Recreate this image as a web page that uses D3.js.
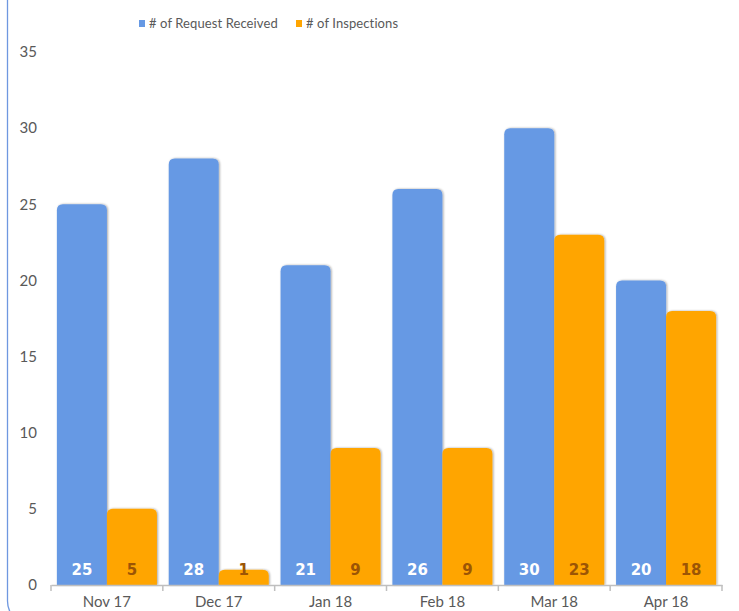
<!DOCTYPE html>
<html>
<head>
<meta charset="utf-8">
<script src="https://cdn.jsdelivr.net/npm/d3@7"></script>
<style>
  body { margin: 0; background: #fff; }
  svg { display: block; }
</style>
</head>
<body>
<div id="chart"></div>
<script>
// Data
const MONTHS = ['Nov 17', 'Dec 17', 'Jan 18', 'Feb 18', 'Mar 18', 'Apr 18']
const SERIES = ['# of Request Received', '# of Inspections']
const REQUESTS = [25, 28, 21, 26, 30, 20]
const INSPECTIONS = [5, 1, 9, 9, 23, 18]
const Y_TICKS = [0, 5, 10, 15, 20, 25, 30, 35]

// Chart Dimensions
const WIDTH = 739
const HEIGHT = 611
const COLORS = ['#6699e4', '#ffa500']
const LABEL_COLORS = ['#ffffff', '#9c5505']
const FONT = 'Lato, "Open Sans", sans-serif'

var svg = d3.select('#chart').append('svg')
    .attr('width', WIDTH)
    .attr('height', HEIGHT)

// soft shadow on the bars
var defs = svg.append('defs')
defs.append('filter').attr('id', 'shadow')
    .attr('x', '-10%').attr('y', '-10%').attr('width', '130%').attr('height', '130%')
    .append('feDropShadow')
    .attr('dx', 1).attr('dy', 0).attr('stdDeviation', 0.8)
    .attr('flood-color', '#000').attr('flood-opacity', 0.35)

// outer frame (mostly off-screen)
svg.append('rect')
    .attr('x', 7.5).attr('y', -30)
    .attr('width', 758).attr('height', 655)
    .attr('rx', 24)
    .attr('fill', 'none')
    .attr('stroke', '#6f98e0')
    .attr('stroke-width', 1.3)

var x0 = d3.scaleBand().domain(MONTHS).range([51, 722]).padding(0)
var x1 = d3.scaleBand().domain(SERIES).range([0, x0.bandwidth()])
    .paddingInner(0).paddingOuter(0.118)
var y = d3.scaleLinear().domain([0, 35]).range([585, 52])

var rows = MONTHS.map((m, i) => ({ month: m, values: [REQUESTS[i], INSPECTIONS[i]] }))

// y axis labels only
var yAxis = svg.append('g')
    .attr('transform', 'translate(37,0)')
    .call(d3.axisLeft(y).tickValues(Y_TICKS).tickSize(0).tickPadding(0))
yAxis.select('.domain').remove()
yAxis.selectAll('text')
    .attr('fill', '#595959')
    .style('font-family', FONT)
    .style('font-size', '15px')

// bars with rounded tops
function topRounded(x, yTop, w, h, r) {
    r = Math.min(r, h, w / 2)
    return 'M' + x + ',' + (yTop + h) +
        'V' + (yTop + r) +
        'Q' + x + ',' + yTop + ' ' + (x + r) + ',' + yTop +
        'H' + (x + w - r) +
        'Q' + (x + w) + ',' + yTop + ' ' + (x + w) + ',' + (yTop + r) +
        'V' + (yTop + h) + 'Z'
}

var groups = svg.append('g').selectAll('g').data(rows).enter().append('g')
    .attr('transform', (d) => 'translate(' + x0(d.month) + ',0)')

groups.selectAll('path').data((d) => d.values.map((v, k) => ({ key: SERIES[k], value: v, k: k })))
    .enter().append('path')
    .attr('d', (d) => topRounded(x1(d.key), y(d.value), x1.bandwidth(), y(0) - y(d.value), 6))
    .attr('fill', (d) => COLORS[d.k])
    .attr('filter', 'url(#shadow)')

groups.selectAll('text').data((d) => d.values.map((v, k) => ({ key: SERIES[k], value: v, k: k })))
    .enter().append('text')
    .attr('x', (d) => x1(d.key) + x1.bandwidth() / 2)
    .attr('y', 575)
    .attr('text-anchor', 'middle')
    .attr('fill', (d) => LABEL_COLORS[d.k])
    .style('font-family', '"DejaVu Sans", sans-serif')
    .style('font-weight', 'bold')
    .style('font-size', '15px')
    .text((d) => d.value)

// x axis
var xAxis = svg.append('g')
    .attr('transform', 'translate(0,585)')
    .call(d3.axisBottom(x0).tickSize(0).tickPadding(11))
xAxis.select('.domain').attr('stroke', '#bfbfbf').attr('stroke-width', 1.5)
xAxis.selectAll('text')
    .attr('fill', '#595959')
    .style('font-family', FONT)
    .style('font-size', '15px')
// boundary ticks between months
xAxis.selectAll('line.sep').data(MONTHS.concat(['end'])).enter().append('line')
    .attr('class', 'sep')
    .attr('x1', (d, i) => i < MONTHS.length ? x0(d) : x0.range()[1])
    .attr('x2', (d, i) => i < MONTHS.length ? x0(d) : x0.range()[1])
    .attr('y1', 0).attr('y2', 6)
    .attr('stroke', '#bfbfbf').attr('stroke-width', 1.5)

// legend
var legend = svg.append('g').attr('transform', 'translate(139,17)')
var legendX = [0, 157]
SERIES.forEach((s, k) => {
    var item = legend.append('g').attr('transform', 'translate(' + legendX[k] + ',0)')
    item.append('rect')
        .attr('x', 0).attr('y', 3)
        .attr('width', 6).attr('height', 7)
        .attr('fill', COLORS[k])
    item.append('text')
        .attr('x', 10).attr('y', 11)
        .attr('fill', '#595959')
        .style('font-family', FONT)
        .style('font-size', '13px')
        .style('letter-spacing', '0.1px')
        .text(s)
})
</script>
</body>
</html>
